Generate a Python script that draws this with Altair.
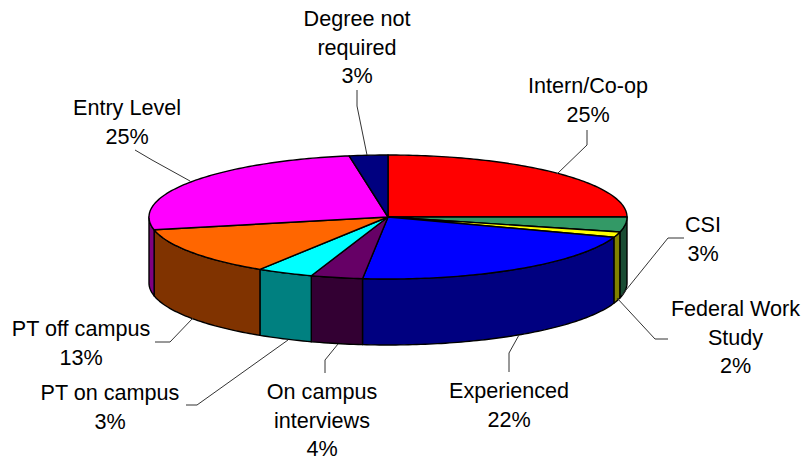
import math
import altair as alt

categories = ["Intern/Co-op", "CSI", "Federal Work Study", "Experienced", "On campus interviews",
              "PT on campus", "PT off campus", "Entry Level", "Degree not required"]
shares = [25.0, 3.9, 1.4, 21.4, 3.5, 3.8, 12.7, 25.7, 2.6]
top_colors = ["#FF0000", "#339966", "#FFFF00", "#0000FF", "#660066",
              "#00FFFF", "#FF6600", "#FF00FF", "#000080"]
side_colors = ["#800000", "#1A4C33", "#808000", "#000080", "#330033",
               "#008080", "#803300", "#800080", "#000040"]

label_texts = ["Degree not\nrequired\n3%", "Intern/Co-op\n25%", "Entry Level\n25%", "CSI\n3%",
               "Federal Work\nStudy\n2%", "Experienced\n22%", "On campus\ninterviews\n4%",
               "PT on campus\n3%", "PT off campus\n13%"]
label_x = [357, 588, 127, 703, 735.5, 509, 322, 110, 81]
label_y = [26, 93, 115, 232, 316, 398, 399, 400, 336]

leader_xs = [[357, 357, 367], [587, 587, 557], [135, 152, 190], [684, 668, 622],
             [668, 655, 617], [509, 509, 519], [325, 325, 338], [186, 197, 288], [155, 170, 193]]
leader_ys = [[90, 106, 155], [130, 145, 174], [150, 160, 181], [238, 238, 295],
             [339, 339, 298], [372, 353, 335], [373, 360, 344], [405, 405, 340], [342, 342, 318]]

CX, CY, RX, RY, DEPTH = 388, 217, 239, 62, 66
W, H = 793, 455


def rim(theta, dy=0.0):
    return [CX + RX * math.sin(theta), CY - RY * math.cos(theta) + dy]


def arc(a, b, dy=0.0):
    n = max(2, int(abs(b - a) / math.radians(1.0)))
    return [rim(a + (b - a) * i / n, dy) for i in range(n + 1)]


def feature(ring, color):
    return {"type": "Feature", "properties": {"color": color},
            "geometry": {"type": "Polygon", "coordinates": [ring + [ring[0]]]}}


features = []
edges = [0.0]
for s in shares:
    edges.append(edges[-1] + s / sum(shares) * 2 * math.pi)

# side walls: only the front half of the rim is visible
for i, c in enumerate(side_colors):
    a, b = max(edges[i], math.pi / 2), min(edges[i + 1], 3 * math.pi / 2)
    if b > a:
        features.append(feature(arc(a, b) + arc(b, a, DEPTH), c))
# top face
for i, c in enumerate(top_colors):
    features.append(feature([[CX, CY]] + arc(edges[i], edges[i + 1]), c))

pie = alt.Chart(alt.Data(values=features)).mark_geoshape(
    stroke="black", strokeWidth=1.4, strokeJoin="round"
).encode(
    color=alt.Color("properties.color:N", scale=None)
).project(type="identity", scale=1, translate=[-8, -8])

x_scale = alt.Scale(domain=[8, 8 + W], range=[0, W])
y_scale = alt.Scale(domain=[8, 8 + H], range=[0, H])

leader_rows = []
for k, (xs, ys) in enumerate(zip(leader_xs, leader_ys)):
    for j, (x, y) in enumerate(zip(xs, ys)):
        leader_rows.append({"id": k, "ord": j, "x": x, "y": y})

leaders = alt.Chart(alt.Data(values=leader_rows)).mark_line(
    color="#333333", strokeWidth=1
).encode(
    x=alt.X("x:Q", scale=x_scale, axis=None),
    y=alt.Y("y:Q", scale=y_scale, axis=None),
    detail="id:N",
    order="ord:Q",
)

label_rows = [{"t": t, "x": x, "y": y} for t, x, y in zip(label_texts, label_x, label_y)]
labels = alt.Chart(alt.Data(values=label_rows)).mark_text(
    font="Liberation Sans", fontSize=21.6, color="black", align="center",
    baseline="alphabetic", lineBreak="\n", lineHeight=28.5
).encode(
    x=alt.X("x:Q", scale=x_scale, axis=None),
    y=alt.Y("y:Q", scale=y_scale, axis=None),
    text="t:N",
)

chart = alt.layer(pie, leaders, labels).resolve_scale(x="shared", y="shared").properties(
    width=W, height=H, padding=0,
    autosize=alt.AutoSizeParams(type="none"),
    background="white",
).configure_view(stroke=None)

chart.save("out.html", embed_options={"renderer": "svg", "actions": False})
